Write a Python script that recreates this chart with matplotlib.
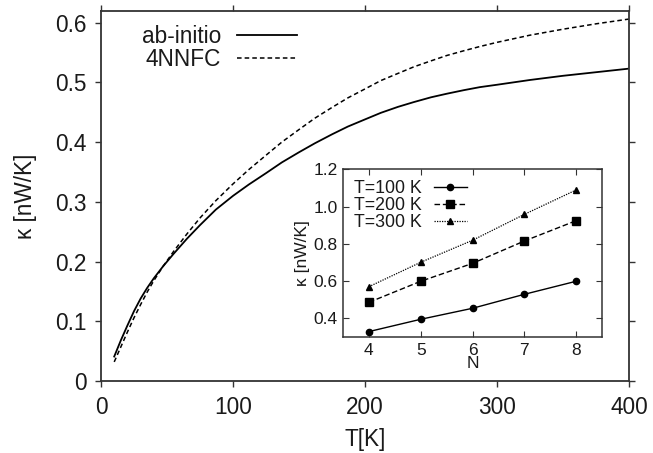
import matplotlib
matplotlib.use("Agg")
import matplotlib.pyplot as plt

plt.rcParams['font.family'] = ['Liberation Sans', 'DejaVu Sans']

# Main panel data: thermal conductance vs temperature
T = [10, 15, 20, 25, 30, 35, 40, 47, 55, 65, 75, 87, 100, 112, 125, 137, 150, 162, 175,
     187, 200, 212, 225, 237, 250, 262, 275, 287, 300, 325, 350, 375, 400]
kappa_abinitio = [0.041, 0.068, 0.093, 0.117, 0.138, 0.156, 0.172, 0.192, 0.213, 0.238,
                  0.261, 0.287, 0.310, 0.329, 0.348, 0.366, 0.383, 0.398, 0.413,
                  0.426, 0.438, 0.449, 0.459, 0.467, 0.475, 0.481, 0.487, 0.492, 0.496,
                  0.504, 0.511, 0.517, 0.523]
kappa_4nnfc = [0.032, 0.057, 0.082, 0.106, 0.128, 0.149, 0.168, 0.192, 0.217, 0.246,
               0.273, 0.302, 0.330, 0.354, 0.378, 0.400, 0.421, 0.440, 0.458,
               0.474, 0.489, 0.503, 0.515, 0.526, 0.536, 0.545, 0.553, 0.560, 0.567,
               0.579, 0.589, 0.598, 0.606]

# Inset data: conductance vs N
N = [4, 5, 6, 7, 8]
k_T100 = [0.329, 0.395, 0.454, 0.529, 0.599]
k_T200 = [0.486, 0.599, 0.695, 0.815, 0.924]
k_T300 = [0.570, 0.701, 0.819, 0.958, 1.089]

main_xticks = [0, 100, 200, 300, 400]
main_yticks = [0, 0.1, 0.2, 0.3, 0.4, 0.5, 0.6]
main_yticklabels = ['0', '0.1', '0.2', '0.3', '0.4', '0.5', '0.6']
inset_yticks = [0.4, 0.6, 0.8, 1.0, 1.2]
inset_yticklabels = ['0.4', '0.6', '0.8', '1.0', '1.2']

txt = '#1a1a1a'
spine_c = '#333333'
FS = 16.3
FS2 = 12.5

fig = plt.figure(figsize=(6.53, 4.53), dpi=100)
ax = fig.add_axes([0.1547, 0.1589, 0.9632 - 0.1547, 0.9764 - 0.1589])

ax.plot(T, kappa_abinitio, color='black', lw=1.3, label='ab-initio')
ax.plot(T, kappa_4nnfc, color='black', lw=1.1, linestyle=(0, (3, 2)), label='4NNFC')

ax.set_xlim(0, 400)
ax.set_ylim(0, 0.62)
ax.set_xticks(main_xticks)
ax.set_xticklabels([str(v) for v in main_xticks])
ax.set_yticks(main_yticks)
ax.set_yticklabels(main_yticklabels)
ax.tick_params(direction='out', length=4.5, width=1, colors=spine_c, labelcolor=txt,
               labelsize=FS, pad=6, top=True, right=True)
for s in ax.spines.values():
    s.set_color(spine_c)
    s.set_linewidth(1.3)
ax.set_xlabel('T[K]', fontsize=FS, color=txt, labelpad=7)
ax.set_ylabel('κ [nW/K]', fontsize=FS, color=txt, labelpad=13)

leg = ax.legend(loc='upper left', bbox_to_anchor=(0.049, 1.0), frameon=False, markerfirst=False,
                fontsize=FS, handlelength=2.65, handletextpad=0.7, labelspacing=0.0,
                borderaxespad=0.25)
for t in leg.get_texts():
    t.set_color(txt)

# Inset
ax2 = fig.add_axes([0.5253, 0.2561, 0.9219 - 0.5253, 0.6263 - 0.2561])
ax2.plot(N, k_T100, color='black', lw=1.0, marker='o', markersize=4.5, label='T=100 K')
ax2.plot(N, k_T200, color='black', lw=1.0, linestyle=(0, (4, 2)), marker='s', markersize=5.5,
         label='T=200 K')
ax2.plot(N, k_T300, color='black', lw=0.9, linestyle=(0, (1, 1)), marker='^', markersize=4,
         label='T=300 K')
ax2.set_xlim(3.5, 8.5)
ax2.set_ylim(0.3, 1.2)
ax2.set_xticks(N)
ax2.set_xticklabels([str(v) for v in N])
ax2.set_yticks(inset_yticks)
ax2.set_yticklabels(inset_yticklabels)
ax2.tick_params(direction='in', length=4, width=0.8, colors=spine_c, labelcolor=txt,
                labelsize=FS2, pad=4, top=True, right=True)
for s in ax2.spines.values():
    s.set_color(spine_c)
    s.set_linewidth(1.1)
ax2.set_xlabel('N', fontsize=FS2, color=txt, labelpad=-1)
ax2.set_ylabel('κ [nW/K]', fontsize=FS2, color=txt, labelpad=2)
leg2 = ax2.legend(loc='upper left', bbox_to_anchor=(0.0, 1.0), frameon=False, markerfirst=False,
                  fontsize=12.8, handlelength=1.85, handletextpad=0.7, labelspacing=0.0,
                  numpoints=1, borderaxespad=0.2)
for t in leg2.get_texts():
    t.set_color(txt)

fig.savefig('out.png', dpi=100)
